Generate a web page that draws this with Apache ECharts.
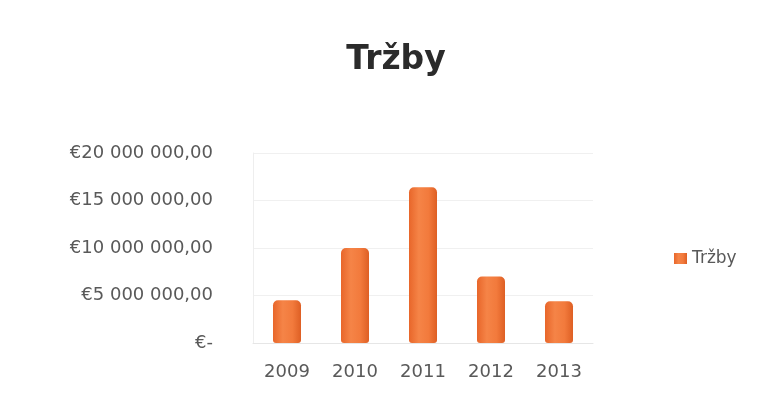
<!DOCTYPE html>
<html>
<head>
<meta charset="utf-8">
<script src="https://cdn.jsdelivr.net/npm/echarts@6/dist/echarts.min.js"></script>
<style>html,body{margin:0;padding:0;background:#fff;}#c{width:762px;height:405px;}</style>
</head>
<body>
<div id="c"></div>
<script>
var categories = ['2009', '2010', '2011', '2012', '2013'];
var trzby = [4500000, 10000000, 16400000, 7000000, 4400000];
var yTickLabels = ['€-', '€5 000 000,00', '€10 000 000,00', '€15 000 000,00', '€20 000 000,00'];
var seriesName = 'Tržby';
var titleText = 'Tržby';

var chart = echarts.init(document.getElementById('c'));
chart.setOption({
  backgroundColor: '#ffffff',
  animation: false,
  title: {
    text: titleText, left: 391, top: 39, textAlign: 'center',
    textStyle: { fontFamily: 'DejaVu Sans', fontWeight: 'bold', fontSize: 33, color: '#2b2b2b' }
  },
  legend: {
    data: [seriesName], left: 669, top: 245, orient: 'vertical',
    itemWidth: 13, itemHeight: 11, itemGap: 6,
    textStyle: { fontFamily: 'DejaVu Sans', fontSize: 17, color: '#595959' },
    icon: 'rect'
  },
  grid: { left: 253, right: 169, top: 153, bottom: 62 },
  xAxis: {
    type: 'category', data: categories,
    axisLine: { lineStyle: { color: '#e6e6e6' } },
    axisTick: { show: false },
    axisLabel: { fontFamily: 'DejaVu Sans', fontSize: 18, color: '#595959', margin: 20 }
  },
  yAxis: {
    type: 'value', min: 0, max: 20000000, interval: 5000000,
    axisLine: { show: true, lineStyle: { color: '#eeeeee' } },
    axisTick: { show: false },
    splitLine: { lineStyle: { color: '#f0f0f0' } },
    axisLabel: {
      fontFamily: 'DejaVu Sans', fontSize: 18, color: '#595959', margin: 40,
      formatter: function (v) { return yTickLabels[Math.round(v / 5000000)]; }
    }
  },
  series: [{
    name: seriesName, type: 'bar', data: trzby, barWidth: 28,
    itemStyle: {
      borderRadius: [5, 5, 3, 3],
      color: {
        type: 'linear', x: 0, y: 0, x2: 1, y2: 0,
        colorStops: [
          { offset: 0, color: '#e8662a' },
          { offset: 0.35, color: '#f58447' },
          { offset: 0.7, color: '#f27a3c' },
          { offset: 1, color: '#de5f24' }
        ]
      }
    }
  }],
  color: ['#f47a3a']
});
</script>
</body>
</html>
